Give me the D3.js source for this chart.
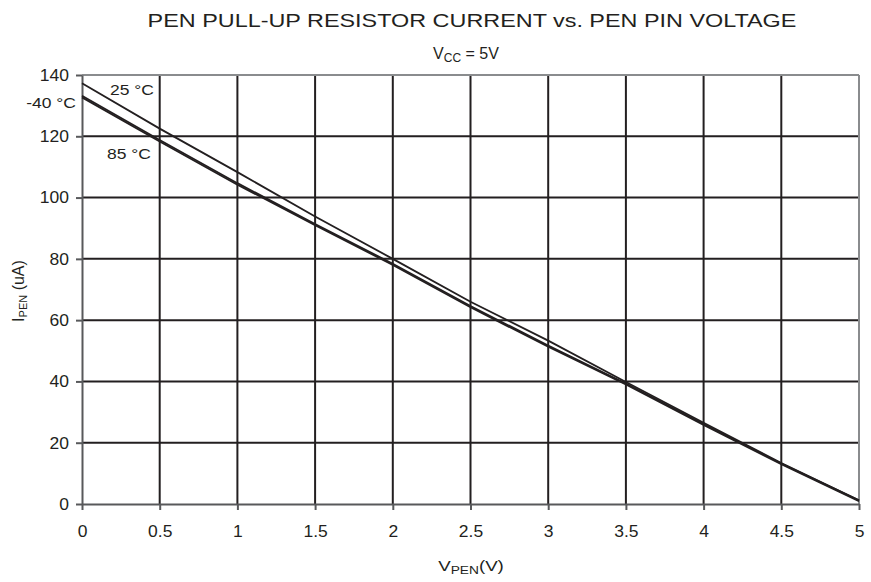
<!DOCTYPE html>
<html><head><meta charset="utf-8">
<script src="https://d3js.org/d3.v7.min.js"></script>
<style>body{margin:0;background:#fff;}text{font-family:"Liberation Sans",Arial,sans-serif;fill:#231f20;}</style>
</head><body><svg id="c" width="871" height="582"></svg>
<script>
const voltages = [0, 0.5, 1, 1.5, 2, 2.5, 3, 3.5, 4, 4.5, 5];
const i25 = [137.3, 122.5, 108.3, 93.8, 80.0, 66.0, 53.3, 39.8, 26.5, 13.4, 1.2];
const iM40 = [133.2, 118.8, 104.7, 91.4, 78.4, 64.6, 51.7, 39.3, 26.1, 13.2, 1.2];
const i85 = [132.7, 118.3, 104.2, 91.0, 78.0, 64.2, 51.3, 39.0, 25.8, 13.0, 0.9];
const xTicks = [0, 0.5, 1, 1.5, 2, 2.5, 3, 3.5, 4, 4.5, 5];
const yTicks = [0, 20, 40, 60, 80, 100, 120, 140];
const seriesNames = ["25 °C", "-40 °C", "85 °C"];

const svg = d3.select("#c");
const L = 82, R = 859, T = 75, B = 504;
const x = d3.scaleLinear().domain([0, 5]).range([L, R]);
const y = d3.scaleLinear().domain([0, 140]).range([B, T]);

// grid
svg.append("g").selectAll("line").data(xTicks.filter(d => d > 0 && d < 5)).join("line")
  .attr("x1", d => x(d)).attr("x2", d => x(d)).attr("y1", T).attr("y2", B)
  .attr("stroke", "#231f20").attr("stroke-width", 2);
svg.append("g").selectAll("line").data(yTicks.filter(d => d > 0 && d < 140)).join("line")
  .attr("y1", d => y(d)).attr("y2", d => y(d)).attr("x1", L).attr("x2", R)
  .attr("stroke", "#231f20").attr("stroke-width", 2);
// top/right border
svg.append("line").attr("x1", L).attr("x2", R).attr("y1", T).attr("y2", T).attr("stroke", "#8a8c8e").attr("stroke-width", 2);
svg.append("line").attr("x1", R).attr("x2", R).attr("y1", T).attr("y2", B).attr("stroke", "#8a8c8e").attr("stroke-width", 2);

// axes
const S = 1.06;
const xAxis = svg.append("g").attr("transform", `translate(0,${B})`)
  .call(d3.axisBottom(x).tickValues(xTicks).tickFormat(d3.format("")).tickSizeInner(6).tickSizeOuter(0).tickPadding(15));
const yAxis = svg.append("g").attr("transform", `translate(${L},0)`)
  .call(d3.axisLeft(y).tickValues(yTicks).tickSizeInner(6).tickSizeOuter(0).tickPadding(6));
[xAxis, yAxis].forEach(a => {
  a.select(".domain").attr("stroke", "#58595b").attr("stroke-width", 2);
  a.selectAll(".tick line").attr("stroke", "#58595b").attr("stroke-width", 2);
  a.selectAll(".tick text").attr("font-size", 16.5).attr("fill", "#231f20")
    .attr("font-family", "Liberation Sans, Arial, sans-serif");
});
xAxis.selectAll(".tick text").attr("transform", `scale(${S},1)`);
yAxis.selectAll(".tick text").attr("x", -13 / S).attr("transform", `scale(${S},1)`);

// lines
const line = d3.line().x((d, i) => x(voltages[i])).y(d => y(d));
[i25, iM40, i85].forEach(s => {
  svg.append("path").datum(s).attr("d", line).attr("fill", "none")
    .attr("stroke", "#231f20").attr("stroke-width", 1.8);
});

function txt(px, py, sx, size, anchor) {
  return svg.append("text").attr("transform", `translate(${px},${py}) scale(${sx},1)`)
    .attr("font-size", size).attr("text-anchor", anchor || "start");
}
// labels on lines
txt(110, 95, 1.13, 15.5).text(seriesNames[0]);
txt(76, 107.5, 1.13, 15.5, "end").text(seriesNames[1]);
txt(107, 159, 1.13, 15.5).text(seriesNames[2]);

// titles
txt(472, 26.5, 1.3, 18, "middle").text("PEN PULL-UP RESISTOR CURRENT vs. PEN PIN VOLTAGE");
const sub = txt(466, 59, 1.0, 16, "middle");
sub.append("tspan").text("V");
sub.append("tspan").attr("font-size", 12).attr("dy", 3).text("CC");
sub.append("tspan").attr("dy", -3).text(" = 5V");

const xl = txt(471, 571, 1.25, 15, "middle");
xl.append("tspan").text("V");
xl.append("tspan").attr("font-size", 11).attr("dy", 3).text("PEN");
xl.append("tspan").attr("dy", -3).text("(V)");

const yl = svg.append("text").attr("transform", "translate(24,291) rotate(-90)").attr("text-anchor", "middle").attr("font-size", 16);
yl.append("tspan").text("I");
yl.append("tspan").attr("font-size", 11).attr("dy", 3).text("PEN");
yl.append("tspan").attr("dy", -3).text(" (uA)");
</script></body></html>
